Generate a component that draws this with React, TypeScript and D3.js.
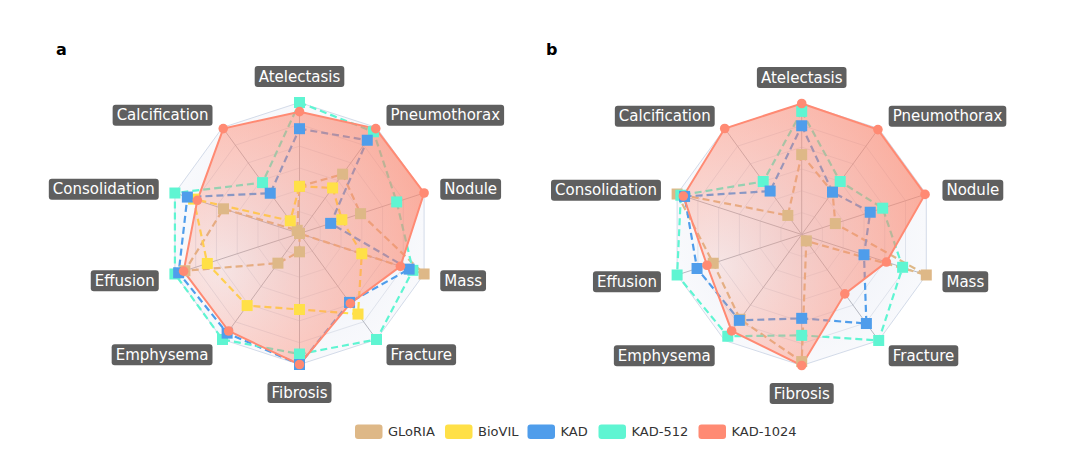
import React from "react";
import * as d3 from "d3";

const axesLabels = ["Atelectasis", "Pneumothorax", "Nodule", "Mass", "Fracture", "Fibrosis", "Emphysema", "Effusion", "Consolidation", "Calcification"];
const seriesNames = ["GLoRIA", "BioVIL", "KAD", "KAD-512", "KAD-1024"];
const seriesColors = ["#DEB887", "#FFE047", "#4F9DEB", "#5FF5D2", "#FF8A73"];

// panel a (normalised radial score)
const gloriaA = [0.36, 0.56, 0.49, 1.0, 0.0, 0.14, 0.28, 0.92, 0.61, 0.03];
const biovilA = [0.36, 0.43, 0.34, 0.50, 0.76, 0.58, 0.68, 0.74, 0.85, 0.12];
const kadA = [0.80, 0.88, 0.25, 0.88, 0.65, 1.0, 0.94, 0.97, 0.90, 0.38];
const kad512A = [1.0, 0.96, 0.78, 0.91, 1.0, 0.92, 1.0, 1.0, 1.0, 0.48];
const kad1024A = [0.93, 0.99, 1.0, 0.81, 0.66, 1.0, 0.92, 0.93, 0.82, 0.99];

// panel b
const gloriaB = [0.61, 0.40, 0.27, 1.0, 0.06, 0.97, 0.80, 0.71, 1.0, 0.18];
const kadB = [0.83, 0.40, 0.55, 0.50, 0.84, 0.64, 0.81, 0.84, 0.94, 0.41];
const kad512B = [0.94, 0.50, 0.65, 0.81, 1.0, 0.77, 0.96, 1.0, 0.97, 0.50];
const kad1024B = [1.0, 0.99, 0.99, 0.68, 0.56, 1.0, 0.91, 0.76, 0.95, 1.0];

const gridLevels = [1 / 6, 2 / 6, 3 / 6, 4 / 6, 5 / 6, 1];

const R = 131;
const FONT = "'DejaVu Sans', Verdana, sans-serif";

function measure(text: string, size: number): number {
  const c = document.createElement("canvas").getContext("2d");
  if (!c) return text.length * size * 0.55;
  c.font = `${size}px DejaVu Sans`;
  return c.measureText(text).width;
}

type Series = { name: string; color: string; values: number[] };

function Radar({ cx, cy, series, id }: { cx: number; cy: number; series: Series[]; id: string }) {
  const n = axesLabels.length;
  const rScale = d3.scaleLinear().domain([0, 1]).range([0, R]);
  const angle = d3.scaleLinear().domain([0, n]).range([0, 2 * Math.PI]);
  const line = d3
    .lineRadial<number>()
    .angle((_, i) => angle(i))
    .radius((v) => rScale(v))
    .curve(d3.curveLinearClosed);
  const pt = (v: number, i: number) => {
    const a = angle(i);
    return [Math.sin(a) * rScale(v), -Math.cos(a) * rScale(v)];
  };
  const ringPath = (lv: number) => line(axesLabels.map(() => lv)) || "";
  const main = series[series.length - 1];
  const others = series.slice(0, -1);
  const markerOrder = others.slice().sort((a, b) => {
    const ord = ["GLoRIA", "BioVIL", "KAD-512", "KAD"];
    return ord.indexOf(a.name) - ord.indexOf(b.name);
  });
  const Rl = 148;
  return (
    <g transform={`translate(${cx},${cy})`}>
      <defs>
        <radialGradient id={`bg-${id}`} cx="0.5" cy="0.5" r="0.5">
          <stop offset="0" stopColor="#eceff7" />
          <stop offset="1" stopColor="#f8f9fc" />
        </radialGradient>
        <radialGradient id={`fill-${id}`} cx="0.15" cy="0.62" r="1.0" fx="0.15" fy="0.62">
          <stop offset="0" stopColor="#FF8A73" stopOpacity={0.16} />
          <stop offset="0.45" stopColor="#FF8A73" stopOpacity={0.42} />
          <stop offset="1" stopColor="#FA8268" stopOpacity={0.7} />
        </radialGradient>
      </defs>
      <path d={ringPath(1)} fill={`url(#bg-${id})`} stroke="none" />
      {gridLevels.map((lv) => (
        <path key={lv} d={ringPath(lv)} fill="none" stroke={lv === 1 ? "#d3dbe9" : "#dfe3ec"} strokeWidth={1} />
      ))}
      {axesLabels.map((_, i) => {
        const [x, y] = pt(1, i);
        return <line key={i} x1={0} y1={0} x2={x} y2={y} stroke="#b5b8c0" strokeWidth={1} />;
      })}
      {others.map((s) => (
        <path key={s.name} d={line(s.values) || ""} fill="none" stroke={s.color} strokeWidth={2.2} strokeDasharray="7,4" />
      ))}
      <path d={line(main.values) || ""} fill={`url(#fill-${id})`} stroke="none" />
      <path d={line(main.values) || ""} fill="none" stroke={main.color} strokeWidth={2} />
      {markerOrder.map((s) => (
        <g key={s.name}>
          {s.values.map((v, i) => {
            const [x, y] = pt(v, i);
            return <rect key={i} x={x - 5.5} y={y - 5.5} width={11} height={11} fill={s.color} />;
          })}
        </g>
      ))}
      {main.values.map((v, i) => {
        const [x, y] = pt(v, i);
        return <circle key={i} cx={x} cy={y} r={4.8} fill={main.color} />;
      })}
      {axesLabels.map((lab, i) => {
        const a = angle(i);
        const s = Math.sin(a);
        const c = Math.cos(a);
        const ax = s * Rl;
        let ay = -c * Rl;
        const w = measure(lab, 15) + 8;
        let x0: number;
        if (Math.abs(s) < 0.1) {
          x0 = ax - w / 2;
          ay += c > 0 ? -9 : 11;
        } else if (s > 0) {
          x0 = ax;
          ay += 1.5;
        } else {
          x0 = ax - w;
          ay += 1.5;
        }
        return (
          <g key={lab}>
            <rect x={x0} y={ay - 10.5} width={w} height={21} rx={3} fill="#5f5f5f" />
            <text x={x0 + w / 2} y={ay + 5} textAnchor="middle" fill="#ffffff" fontSize={15} fontFamily={FONT}>
              {lab}
            </text>
          </g>
        );
      })}
    </g>
  );
}

export default function App() {
  const mk = (vals: number[][], names: string[]): Series[] =>
    vals.map((v, i) => ({ name: names[i], color: seriesColors[seriesNames.indexOf(names[i])], values: v }));
  const seriesA = mk([gloriaA, biovilA, kadA, kad512A, kad1024A], ["GLoRIA", "BioVIL", "KAD", "KAD-512", "KAD-1024"]);
  const seriesB = mk([gloriaB, kadB, kad512B, kad1024B], ["GLoRIA", "KAD", "KAD-512", "KAD-1024"]);
  const legendX = [355, 445, 527.5, 598.5, 698.5];
  return (
    <svg width={1080} height={462} style={{ position: "absolute", left: 0, top: 0 }} fontFamily={FONT}>
      <rect width={1080} height={462} fill="#ffffff" />
      <text x={56} y={55} fontSize={16} fontWeight="bold" fill="#000">a</text>
      <text x={546} y={55} fontSize={16} fontWeight="bold" fill="#000">b</text>
      <Radar cx={299.5} cy={233.5} series={seriesA} id="a" />
      <Radar cx={801.7} cy={234.5} series={seriesB} id="b" />
      {seriesNames.map((nm, i) => (
        <g key={nm}>
          <rect x={legendX[i]} y={424.5} width={27.5} height={14.5} rx={3} fill={seriesColors[i]} />
          <text x={legendX[i] + 33} y={436} fontSize={13} fill="#333">{nm}</text>
        </g>
      ))}
    </svg>
  );
}
